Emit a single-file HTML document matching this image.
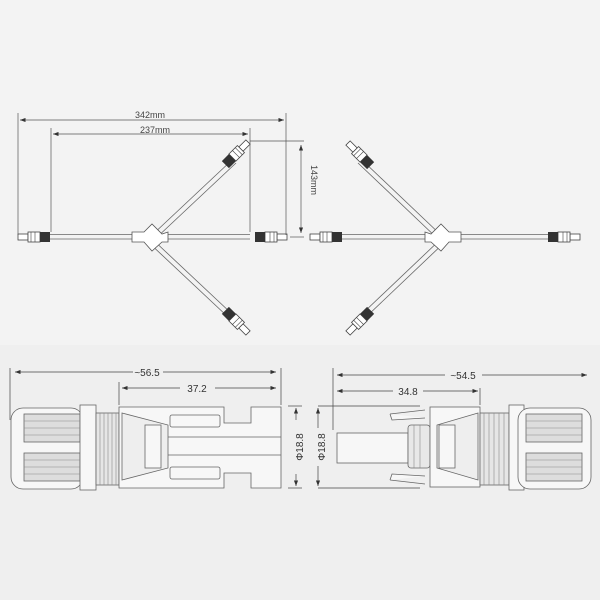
<!DOCTYPE html>
<html><head><meta charset="utf-8"><style>
html,body{margin:0;padding:0;background:#f1f1f1;}
svg{display:block;font-family:"Liberation Sans",sans-serif;}
</style></head><body>
<svg width="600" height="600" viewBox="0 0 600 600">
<defs>
<marker id="ar" markerWidth="8" markerHeight="6" refX="8" refY="3" orient="auto"><path d="M0,0 L8,3 L0,6 z" fill="#333"/></marker>
<marker id="al" markerWidth="8" markerHeight="6" refX="0" refY="3" orient="auto"><path d="M8,0 L0,3 L8,6 z" fill="#333"/></marker>
<g id="con">
<rect x="0" y="-3" width="10" height="6" fill="#fff" stroke="#444" stroke-width="0.8"/>
<rect x="10" y="-5" width="12" height="10" fill="#fff" stroke="#444" stroke-width="0.8"/>
<rect x="22" y="-5" width="10" height="10" fill="#333"/>
<line x1="13" y1="-5" x2="13" y2="5" stroke="#444" stroke-width="0.6"/>
<line x1="17" y1="-5" x2="17" y2="5" stroke="#444" stroke-width="0.6"/>
</g>
<g id="junc">
<path d="M-18,-5 L-6,-5 L2,-13 L12,-3 L18,-5 L18,5 L12,5 L2,14 L-6,5 L-18,5 z" fill="#fff" stroke="#555" stroke-width="0.8"/>
</g>
</defs>
<rect x="0" y="0" width="600" height="345" fill="#f3f3f3"/>
<rect x="0" y="345" width="600" height="255" fill="#efefef"/>
<g stroke="#666" stroke-width="0.8" fill="none">
<!-- left Y -->
<line x1="40" y1="234.5" x2="250" y2="234.5"/><line x1="40" y1="239" x2="250" y2="239"/>
<line x1="150" y1="237" x2="232" y2="160"/><line x1="154" y1="240" x2="236" y2="163"/>
<line x1="150" y1="237" x2="232" y2="314"/><line x1="146" y1="240" x2="228" y2="317"/>
<!-- right Y -->
<line x1="330" y1="234.5" x2="555" y2="234.5"/><line x1="330" y1="239" x2="555" y2="239"/>
<line x1="443" y1="237" x2="362" y2="160"/><line x1="439" y1="240" x2="358" y2="163"/>
<line x1="443" y1="237" x2="362" y2="314"/><line x1="447" y1="240" x2="366" y2="317"/>
</g>
<use href="#junc" transform="translate(150,237)"/>
<use href="#junc" transform="translate(443,237) scale(-1,1)"/>
<use href="#con" transform="translate(18,237)"/>
<use href="#con" transform="translate(287,237) scale(-1,1)"/>
<use href="#con" transform="translate(248,142) rotate(135)"/>
<use href="#con" transform="translate(248,333) rotate(-135)"/>
<use href="#con" transform="translate(310,237)"/>
<use href="#con" transform="translate(580,237) scale(-1,1)"/>
<use href="#con" transform="translate(348,143) rotate(45)"/>
<use href="#con" transform="translate(348,333) rotate(-45)"/>
<!-- top dims -->
<g stroke="#555" stroke-width="0.7" fill="none">
<line x1="18" y1="113" x2="18" y2="235"/><line x1="286" y1="113" x2="286" y2="235"/>
<line x1="51" y1="128" x2="51" y2="232"/><line x1="250" y1="128" x2="250" y2="232"/>
<line x1="20" y1="120" x2="284" y2="120" marker-start="url(#al)" marker-end="url(#ar)"/>
<line x1="53" y1="134" x2="248" y2="134" marker-start="url(#al)" marker-end="url(#ar)"/>
<line x1="250" y1="141" x2="304" y2="141"/><line x1="290" y1="237" x2="304" y2="237"/>
<line x1="301" y1="145" x2="301" y2="233" marker-start="url(#al)" marker-end="url(#ar)"/>
</g>
<text x="150" y="118" font-size="9" fill="#444" text-anchor="middle">342mm</text>
<text x="155" y="133" font-size="9" fill="#444" text-anchor="middle">237mm</text>
<text transform="translate(311,180) rotate(90)" font-size="9" fill="#444" text-anchor="middle">143mm</text>
<!-- bottom dims -->
<g stroke="#444" stroke-width="0.7" fill="none">
<line x1="10" y1="368" x2="10" y2="420"/><line x1="281" y1="368" x2="281" y2="405"/>
<line x1="119" y1="382" x2="119" y2="405"/>
<line x1="15" y1="372" x2="133" y2="372" marker-start="url(#al)"/><line x1="163" y1="372" x2="276" y2="372" marker-end="url(#ar)"/>
<line x1="122" y1="388" x2="180" y2="388" marker-start="url(#al)"/><line x1="215" y1="388" x2="276" y2="388" marker-end="url(#ar)"/>
<line x1="333" y1="368" x2="333" y2="430"/><line x1="480" y1="388" x2="480" y2="405"/>
<line x1="337" y1="375" x2="445" y2="375" marker-start="url(#al)"/><line x1="482" y1="375" x2="587" y2="375" marker-end="url(#ar)"/>
<line x1="337" y1="391" x2="393" y2="391" marker-start="url(#al)"/><line x1="423" y1="391" x2="478" y2="391" marker-end="url(#ar)"/>
<line x1="288" y1="406" x2="302" y2="406"/><line x1="288" y1="488" x2="302" y2="488"/>
<line x1="296" y1="408" x2="296" y2="420" marker-start="url(#al)"/><line x1="296" y1="474" x2="296" y2="486" marker-end="url(#ar)"/>
<line x1="318" y1="408" x2="318" y2="428" marker-start="url(#al)"/><line x1="318" y1="466" x2="318" y2="486" marker-end="url(#ar)"/>
<line x1="318" y1="406" x2="420" y2="406"/><line x1="318" y1="488" x2="420" y2="488"/>
</g>
<text x="147" y="376" font-size="10" fill="#333" text-anchor="middle">~56.5</text>
<text x="197" y="392" font-size="10" fill="#333" text-anchor="middle">37.2</text>
<text x="463" y="379" font-size="10" fill="#333" text-anchor="middle">~54.5</text>
<text x="408" y="395" font-size="10" fill="#333" text-anchor="middle">34.8</text>
<text transform="translate(303,447) rotate(-90)" font-size="10" fill="#333" text-anchor="middle">Φ18.8</text>
<text transform="translate(325,447) rotate(-90)" font-size="10" fill="#333" text-anchor="middle">Φ18.8</text>
<!-- left connector -->
<g stroke="#666" stroke-width="0.8" fill="#f7f7f7">
<rect x="11" y="408" width="72" height="81" rx="12"/>
<rect x="24" y="414" width="56" height="28" fill="#ddd"/>
<rect x="24" y="453" width="56" height="28" fill="#ddd"/>
<rect x="80" y="405" width="16" height="85"/>
<rect x="96" y="413" width="23" height="72" fill="#e6e6e6"/>
<path d="M119,407 H224 V423 H251 V407 H281 V488 H251 V473 H224 V488 H119 z"/>
<path d="M122,413 L168,425 L168,468 L122,480 z" fill="#eee"/>
<rect x="145" y="425" width="16" height="43"/>
<rect x="170" y="415" width="50" height="12" rx="2"/>
<rect x="170" y="467" width="50" height="12" rx="2"/>
<line x1="168" y1="437" x2="281" y2="437"/><line x1="168" y1="455" x2="281" y2="455"/>
</g>
<g stroke="#888" stroke-width="0.6">
<line x1="100" y1="413" x2="100" y2="485"/><line x1="104" y1="413" x2="104" y2="485"/><line x1="108" y1="413" x2="108" y2="485"/><line x1="112" y1="413" x2="112" y2="485"/><line x1="116" y1="413" x2="116" y2="485"/>
<line x1="24" y1="421" x2="80" y2="421"/><line x1="24" y1="428" x2="80" y2="428"/><line x1="24" y1="435" x2="80" y2="435"/>
<line x1="24" y1="460" x2="80" y2="460"/><line x1="24" y1="467" x2="80" y2="467"/><line x1="24" y1="474" x2="80" y2="474"/>
</g>
<!-- right connector -->
<g stroke="#666" stroke-width="0.8" fill="#f7f7f7">
<path d="M390,414 L425,410 M390,414 L392,420 L425,418"/>
<path d="M390,480 L425,484 M390,480 L392,474 L425,476"/>
<rect x="337" y="433" width="71" height="30"/>
<rect x="408" y="425" width="22" height="43" rx="3" fill="#e8e8e8"/>
<rect x="430" y="407" width="50" height="80"/>
<path d="M478,413 L437,425 L437,468 L478,480 z" fill="#eee"/>
<rect x="439" y="425" width="16" height="43"/>
<rect x="480" y="413" width="29" height="72" fill="#e6e6e6"/>
<rect x="509" y="405" width="15" height="85"/>
<rect x="518" y="408" width="73" height="81" rx="12"/>
<rect x="526" y="414" width="56" height="28" fill="#ddd"/>
<rect x="526" y="453" width="56" height="28" fill="#ddd"/>
</g>
<g stroke="#888" stroke-width="0.6">
<line x1="484" y1="413" x2="484" y2="485"/><line x1="489" y1="413" x2="489" y2="485"/><line x1="494" y1="413" x2="494" y2="485"/><line x1="499" y1="413" x2="499" y2="485"/><line x1="504" y1="413" x2="504" y2="485"/>
<line x1="526" y1="421" x2="582" y2="421"/><line x1="526" y1="428" x2="582" y2="428"/><line x1="526" y1="435" x2="582" y2="435"/>
<line x1="526" y1="460" x2="582" y2="460"/><line x1="526" y1="467" x2="582" y2="467"/><line x1="526" y1="474" x2="582" y2="474"/>
<line x1="414" y1="425" x2="414" y2="468"/><line x1="420" y1="425" x2="420" y2="468"/>
</g>
</svg>
</body></html>
